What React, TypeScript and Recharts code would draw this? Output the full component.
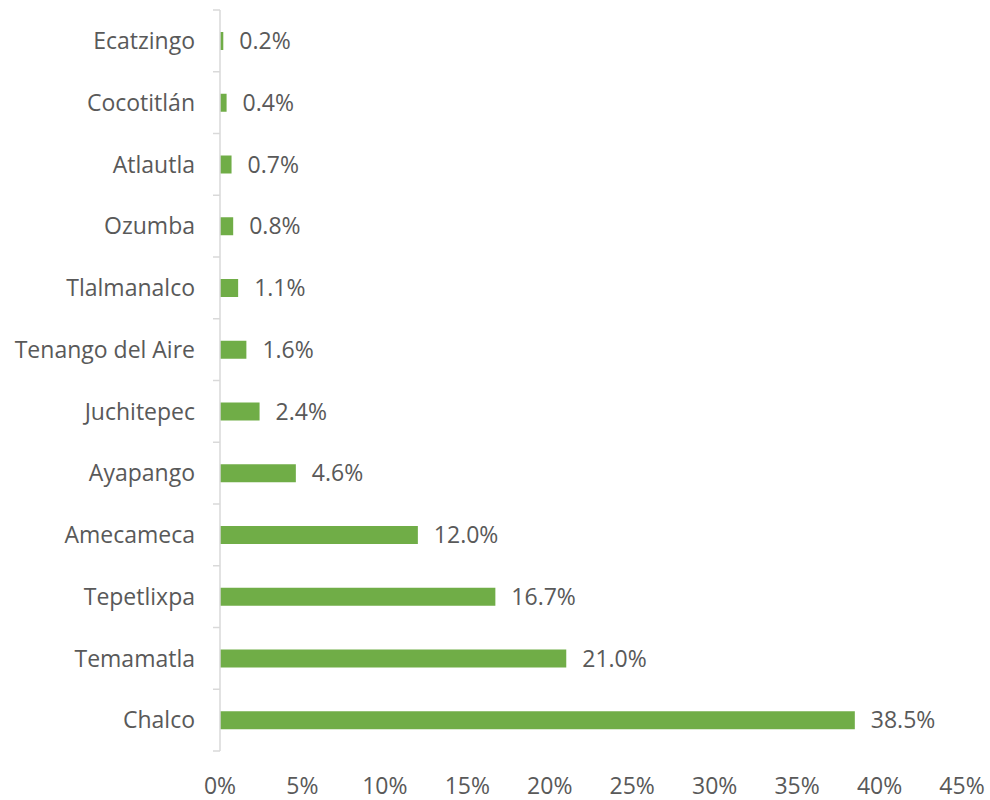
import { Bar, BarChart, LabelList, XAxis, YAxis } from "recharts";

const municipios = [
  "Ecatzingo",
  "Cocotitlán",
  "Atlautla",
  "Ozumba",
  "Tlalmanalco",
  "Tenango del Aire",
  "Juchitepec",
  "Ayapango",
  "Amecameca",
  "Tepetlixpa",
  "Temamatla",
  "Chalco",
];
const porcentajes = [0.2, 0.4, 0.7, 0.8, 1.1, 1.6, 2.4, 4.6, 12.0, 16.7, 21.0, 38.5];
const xTicks = [0, 5, 10, 15, 20, 25, 30, 35, 40, 45];

const data = municipios.map((name, i) => ({ name, value: porcentajes[i] }));

const W = 990;
const H = 800;
const MARGIN = { top: 10, right: 28, bottom: 0, left: 10 };
const X_AXIS_H = 49;
const Y_AXIS_W = 210;
const TICK_SIZE = 8;
const TICK_MARGIN = 17;
const band = (H - MARGIN.top - MARGIN.bottom - X_AXIS_H) / municipios.length;

const TEXT = "#595959";
const FONT = "'Open Sans', sans-serif";
const FS = 23;

function CategoryTick(props: any) {
  const { x, y, payload, index } = props;
  const axisX = x + TICK_SIZE + TICK_MARGIN;
  const last = index === municipios.length - 1;
  return (
    <g>
      <line x1={axisX - 7} x2={axisX} y1={y - band / 2} y2={y - band / 2} stroke="#d9d9d9" strokeWidth={1.5} />
      {last && (
        <line x1={axisX - 7} x2={axisX} y1={y + band / 2} y2={y + band / 2} stroke="#d9d9d9" strokeWidth={1.5} />
      )}
      <text x={x} y={y} dy="0.355em" textAnchor="end" fill={TEXT} fontSize={FS} fontFamily={FONT}>
        {payload.value}
      </text>
    </g>
  );
}

export default function App() {
  return (
    <div style={{ position: "absolute", left: 0, top: 0, background: "#fff" }}>
      <BarChart width={W} height={H} data={data} layout="vertical" margin={MARGIN}>
        <XAxis
          type="number"
          domain={[0, 45]}
          ticks={xTicks}
          interval={0}
          tickFormatter={(v) => `${v}%`}
          axisLine={false}
          tickLine={false}
          tickSize={0}
          tickMargin={27}
          height={X_AXIS_H}
          tick={{ fill: TEXT, fontSize: FS, fontFamily: FONT }}
        />
        <YAxis
          type="category"
          dataKey="name"
          width={Y_AXIS_W}
          interval={0}
          axisLine={{ stroke: "#d9d9d9", strokeWidth: 1.5 }}
          tickLine={false}
          tickSize={TICK_SIZE}
          tickMargin={TICK_MARGIN}
          tick={<CategoryTick />}
        />
        <Bar dataKey="value" fill="#70ad47" barSize={18} isAnimationActive={false}>
          <LabelList
            dataKey="value"
            position="right"
            offset={16}
            formatter={(v: any) => `${Number(v).toFixed(1)}%`}
            style={{ fill: TEXT, fontSize: FS, fontFamily: FONT }}
          />
        </Bar>
      </BarChart>
    </div>
  );
}
